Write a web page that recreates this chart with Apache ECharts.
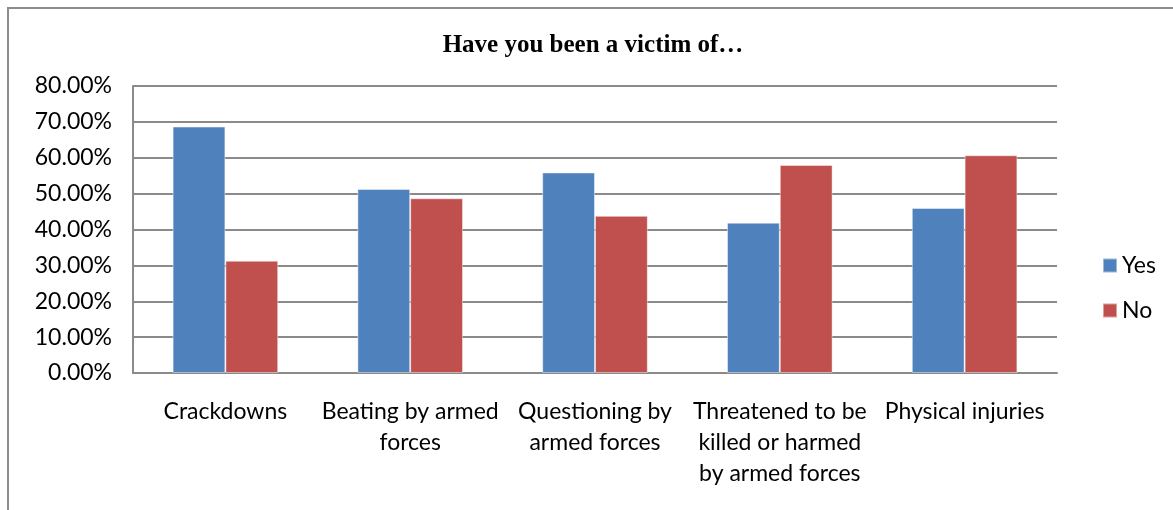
<!DOCTYPE html>
<html>
<head>
<meta charset="utf-8">
<script src="https://cdn.jsdelivr.net/npm/echarts@6/dist/echarts.min.js"></script>
<style>
  html, body { margin: 0; padding: 0; background: #fff; }
  #chart { width: 1173px; height: 510px; }
</style>
</head>
<body>
<div id="chart"></div>
<script>
// Survey answers, in percent of respondents
const categories = [
  'Crackdowns',
  'Beating by armed\nforces',
  'Questioning by\narmed forces',
  'Threatened to be\nkilled or harmed\nby armed forces',
  'Physical injuries'
];
const yesValues = [68.7, 51.3, 55.9, 41.9, 46.0];
const noValues  = [31.3, 48.7, 43.8, 58.0, 60.7];
const seriesNames = ['Yes', 'No'];
const chartTitle = 'Have you been a victim of\u2026';

const BLUE = '#4F81BD';
const RED = '#C0504D';
const GRID_GRAY = '#8a8a8a';
const LABEL_FONT = 'Lato, "Open Sans", sans-serif';

const chart = echarts.init(document.getElementById('chart'), null, { renderer: 'canvas' });

chart.setOption({
  animation: false,
  backgroundColor: '#ffffff',
  title: {
    text: chartTitle,
    left: 588,
    textAlign: 'center',
    top: 28,
    textStyle: {
      fontFamily: '"Liberation Serif", "Times New Roman", serif',
      fontWeight: 'bold',
      fontSize: 25,
      color: '#000'
    }
  },
  graphic: [{
    type: 'rect',
    shape: { x: 8, y: 8, width: 1300, height: 700 },
    style: { fill: null, stroke: '#8c8c8c', lineWidth: 2 },
    silent: true
  }],
  legend: {
    orient: 'vertical',
    left: 1097,
    top: 249,
    itemWidth: 14,
    itemHeight: 14,
    itemGap: 22,
    icon: 'rect',
    data: seriesNames,
    textStyle: {
      fontFamily: LABEL_FONT,
      fontSize: 23,
      lineHeight: 23,
      color: '#000'
    }
  },
  grid: {
    left: 133,
    right: 116,
    top: 86,
    bottom: 137,
    containLabel: false
  },
  xAxis: {
    type: 'category',
    data: categories,
    axisLine: { show: true, lineStyle: { color: GRID_GRAY, width: 2 } },
    axisTick: { show: false },
    axisLabel: {
      interval: 0,
      margin: 23,
      fontFamily: LABEL_FONT,
      fontSize: 23,
      lineHeight: 31,
      color: '#000',
      align: 'center'
    }
  },
  yAxis: {
    type: 'value',
    min: 0,
    max: 80,
    interval: 10,
    axisLine: { show: true, lineStyle: { color: GRID_GRAY, width: 2 } },
    axisTick: { show: false },
    splitLine: { show: true, lineStyle: { color: GRID_GRAY, width: 2 } },
    axisLabel: {
      margin: 21,
      fontFamily: LABEL_FONT,
      fontSize: 23,
      color: '#000',
      formatter: v => v.toFixed(2) + '%'
    }
  },
  series: [
    {
      name: seriesNames[0],
      type: 'bar',
      data: yesValues,
      barGap: '0%',
      barCategoryGap: '42.86%',
      itemStyle: { color: BLUE, borderColor: 'rgba(255,255,255,0.45)', borderWidth: 1 }
    },
    {
      name: seriesNames[1],
      type: 'bar',
      data: noValues,
      barGap: '0%',
      barCategoryGap: '42.86%',
      itemStyle: { color: RED, borderColor: 'rgba(255,255,255,0.45)', borderWidth: 1 }
    }
  ]
});
</script>
</body>
</html>
